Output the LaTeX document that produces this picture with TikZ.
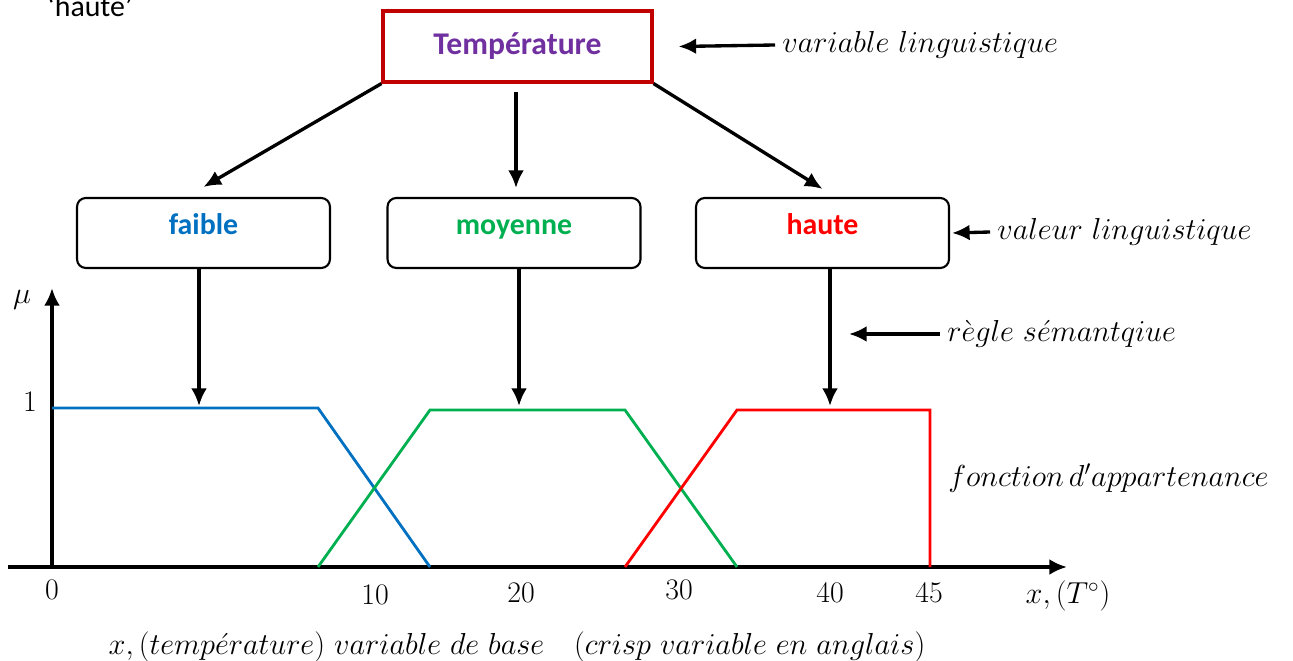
\documentclass[tikz,border=0pt]{standalone}
\usepackage{fontspec}
\newfontfamily\calib{Carlito}
\usetikzlibrary{arrows.meta,positioning}
\definecolor{varRed}{RGB}{192,0,0}
\definecolor{varPurple}{RGB}{112,48,160}
\definecolor{fuzBlue}{RGB}{0,112,192}
\definecolor{fuzGreen}{RGB}{0,176,80}
\definecolor{fuzRed}{RGB}{255,0,0}

\tikzset{
  valbox/.style={draw, rounded corners=5pt, line width=1.2pt, minimum width=5.06cm,
    minimum height=1.4cm, text height=2pt, text depth=0pt,
    font=\calib\bfseries\fontsize{17}{20}\selectfont},
  arr/.style={-{Latex[length=10pt,width=9pt]}, line width=1.9pt},
  note/.style={anchor=west, inner sep=0pt, font=\fontsize{17}{20}\selectfont},
  tick/.style={font=\fontsize{17}{20}\selectfont},
  memb/.style={line width=1.6pt}
}

\begin{document}
\begin{tikzpicture}[x=0.02cm, y=-0.02cm]
    \useasboundingbox (0,0) rectangle (1293,661);

    % top-left remnant
    \node[anchor=base west, inner sep=0pt, font=\calib\fontsize{17}{20}\selectfont] at (47,17) {‘haute’};

    % linguistic variable
    \node[draw=varRed, line width=1.8pt, minimum width=5.38cm, minimum height=1.42cm,
      text=varPurple, font=\calib\bfseries\fontsize{18}{22}\selectfont] (temp) at (517.5,46.5) {Température};
    \node[note] (varlab) at (782,45) {$variable\ linguistique$};
    \draw[arr] ([xshift=-0.14cm]varlab.west) -- ([xshift=0.5cm]temp.east);

    % linguistic values
    \node[valbox, text=fuzBlue] (low) at (203.5,233) {faible};
    \node[valbox, text=fuzGreen] (mid) at (514,233) {moyenne};
    \node[valbox, text=fuzRed] (high) at (822.5,233) {haute};
    \node[note] (vallab) at (997,232) {$valeur\ linguistique$};
    \draw[arr] ([xshift=-0.14cm]vallab.west) -- ([xshift=0.04cm]high.east);

    \coordinate (midtop) at (516,188);
    \draw[arr] (temp.south west) -- ([yshift=0.2cm]low.north);
    \draw[arr] (midtop |- temp.south) ++(0,8) -- (midtop);
    \draw[arr] (temp.south east) -- ([yshift=0.16cm]high.north);

    % axes
    \coordinate (o) at (52,567);
    \coordinate (ytop) at (52,288);
    \coordinate (xl) at (8,567);
    \coordinate (xr) at (1067,567);
    \draw[arr, line width=2.2pt] (o) -- (ytop);
    \draw[arr, line width=2.2pt] (xl) -- (xr);
    \node[tick] (mu) at (22,300) {$\mu$};
    \node[tick] (one) at (30,402) {1};
    \node[tick] (t0) at (52,590) {0};
    \node[tick] (t10) at (375,595) {10};
    \node[tick] (t20) at (521,593) {20};
    \node[tick] (t30) at (679,590) {30};
    \node[tick] (t40) at (830,593) {40};
    \node[tick] (t45) at (929,593) {45};
    \node[tick] (xlab) at (1068,596) {$x, (T^{\circ})$};

    % membership functions
    \draw[memb, fuzBlue] (52,408) -- (318,408) -- (430,567);
    \draw[memb, fuzGreen] (318,567) -- (430,410) -- (625,410) -- (737,567);
    \draw[memb, fuzRed] (625,567) -- (737,410) -- (930,410) -- (930,567);

    % semantic rule
    \coordinate (pLow) at (199,406);
    \coordinate (pMid) at (519,406);
    \coordinate (pHigh) at (830,406);
    \draw[arr] (low.south -| pLow) -- (pLow);
    \draw[arr] (mid.south -| pMid) -- (pMid);
    \draw[arr] (high.south -| pHigh) -- (pHigh);
    \node[note] (reglab) at (947,334) {$r\grave{e}gle\ s\acute{e}mantqiue$};
    \coordinate (regtip) at (849,334);
    \draw[arr] ([xshift=-0.14cm]reglab.west) -- (regtip);

    \node[note] (fnlab) at (948,478) {$fonction\,d'appartenance$};
    \node[font=\fontsize{17}{20}\selectfont] (base) at (517,647)
      {$x, (temp\acute{e}rature)\ variable\ de\ base\quad(crisp\ variable\ en\ anglais)$};
\end{tikzpicture}
\end{document}
